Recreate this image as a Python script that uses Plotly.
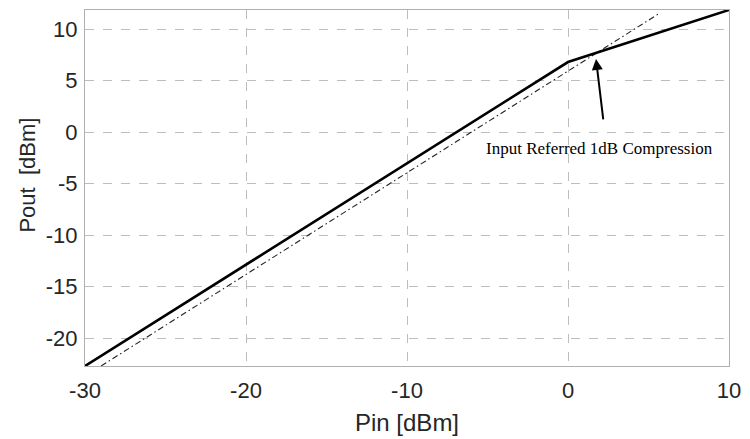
import plotly.graph_objects as go

# Amplifier transfer curve (piecewise) and ideal linear-gain reference
pin_amp = [-30, 0, 10]
pout_amp = [-22.7, 6.8, 11.85]

pin_lin = [-29.0, 5.6]
pout_lin = [-22.7, 11.45]

# 1 dB compression marker: arrow tip and tail
p1db_tip = (1.74, 7.1)
p1db_tail = (2.2, 1.1)
p1db_label = "Input Referred 1dB Compression"
p1db_label_pos = (1.95, -1.6)

x_ticks = [-30, -20, -10, 0, 10]
x_labels = ["-30", "-20", "-10", "0", "10"]
y_ticks = [-20, -15, -10, -5, 0, 5, 10]
y_labels = ["-20", "-15", "-10", "-5", "0", "5", "10"]

fig = go.Figure()
fig.add_trace(go.Scatter(
    x=pin_lin, y=pout_lin, mode="lines",
    line=dict(color="#222222", width=1.1, dash="6px,3px,1.5px,3px"),
    showlegend=False, hoverinfo="skip"))
fig.add_trace(go.Scatter(
    x=pin_amp, y=pout_amp, mode="lines",
    line=dict(color="black", width=2.6),
    showlegend=False, hoverinfo="skip"))

fig.add_annotation(
    x=p1db_tip[0], y=p1db_tip[1], ax=p1db_tail[0], ay=p1db_tail[1],
    xref="x", yref="y", axref="x", ayref="y",
    text="", showarrow=True, arrowhead=2, arrowsize=1.1,
    arrowwidth=2, arrowcolor="black")
fig.add_annotation(
    x=p1db_label_pos[0], y=p1db_label_pos[1], xref="x", yref="y",
    text=p1db_label, showarrow=False,
    font=dict(family="Liberation Serif", size=17, color="black"))

tick_font = dict(family="Liberation Sans", size=22, color="#262626")
grid = dict(showgrid=True, gridcolor="#bdbdbd", griddash="dash", gridwidth=1,
            zeroline=False, showline=True, mirror=True, linecolor="#b0b0b0",
            linewidth=1, ticks="", tickfont=tick_font)

fig.update_xaxes(range=[-30, 10], tickvals=x_ticks, ticktext=x_labels,
                 ticklabelstandoff=5, **grid)
fig.update_yaxes(range=[-22.7, 11.85], tickvals=y_ticks, ticktext=y_labels,
                 ticklabelstandoff=2, **grid)

fig.add_annotation(
    x=0.5, y=-0.158, xref="paper", yref="paper", text="Pin [dBm]",
    showarrow=False, yanchor="middle",
    font=dict(family="Liberation Sans", size=24, color="#262626"))
fig.add_annotation(
    x=-0.09, y=0.535, xref="paper", yref="paper", text="Pout  [dBm]",
    showarrow=False, textangle=-90, xanchor="center", yanchor="middle",
    font=dict(family="Liberation Sans", size=22, color="#262626"))

fig.update_layout(
    width=750, height=439,
    margin=dict(l=85, r=16, t=9, b=73),
    paper_bgcolor="white", plot_bgcolor="white",
    showlegend=False)

fig.write_html("out.html")
